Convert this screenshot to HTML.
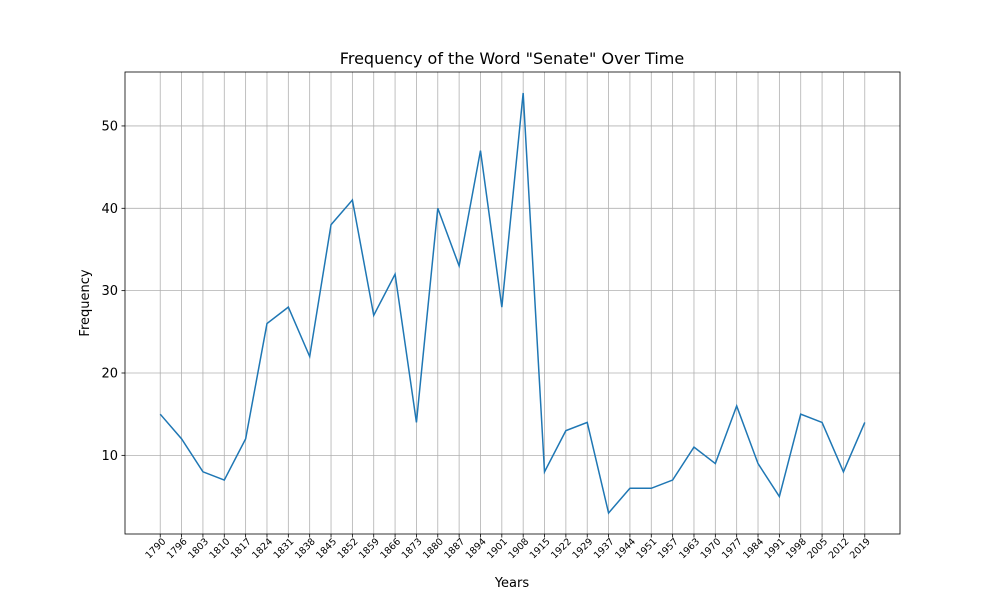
<!DOCTYPE html>
<html><head><meta charset="utf-8"><style>body{margin:0;background:#fff}svg{font-family:"DejaVu Sans","Liberation Sans",sans-serif}</style></head>
<body>
<svg id="chart" width="1000" height="600">
<rect x="0" y="0" width="1000" height="600" fill="#fff"/>
<g id="grid"></g>
<g id="ticks"></g>
<path id="line" fill="none" stroke="#1f77b4" stroke-width="1.5"/>
<rect x="125" y="72" width="775" height="462" fill="none" stroke="#000" stroke-width="0.8"/>
<text x="512" y="64" text-anchor="middle" font-size="16">Frequency of the Word "Senate" Over Time</text>
<text x="512" y="587" text-anchor="middle" font-size="13">Years</text>
<text transform="translate(89,303) rotate(-90)" text-anchor="middle" font-size="13">Frequency</text>
</svg>
<script>
const years=["1790","1796","1803","1810","1817","1824","1831","1838","1845","1852","1859","1866","1873","1880","1887","1894","1901","1908","1915","1922","1929","1937","1944","1951","1957","1963","1970","1977","1984","1991","1998","2005","2012","2019"];
const values=[15,12,8,7,12,26,28,22,38,41,27,32,14,40,33,47,28,54,8,13,14,3,6,6,7,11,9,16,9,5,15,14,8,14];
const yTicks=[10,20,30,40,50];
const NS="http://www.w3.org/2000/svg";
const x0=125,x1=900,yTop=72,yBot=534;
const step=(x1-x0)/(years.length-1+2*1.65);
const xs=i=>x0+step*1.65+i*step;
const mn=Math.min(...values),mx=Math.max(...values),pad=(mx-mn)*0.05;
const ys=v=>yBot-(v-(mn-pad))/((mx+pad)-(mn-pad))*(yBot-yTop);
const grid=document.getElementById('grid'),ticks=document.getElementById('ticks');
function mk(t,a,p){const e=document.createElementNS(NS,t);for(const k in a)e.setAttribute(k,a[k]);p.appendChild(e);return e;}
years.forEach((y,i)=>{
 const x=xs(i);
 const g=mk('line',{x1:x,x2:x,y1:yTop,y2:yBot,stroke:'#b0b0b0','stroke-width':0.8},grid);
 
 
 mk('line',{x1:x,x2:x,y1:yBot,y2:yBot+3.5,stroke:'#000','stroke-width':0.8},ticks);
 const ax=x+6,ay=yBot+8;
 const t=mk('text',{x:ax,y:ay,'font-size':9.5,'text-anchor':'end',transform:`rotate(-45 ${ax} ${ay})`},ticks);
 t.textContent=y;
 
 
});
yTicks.forEach(v=>{
 const y=ys(v);
 const g=mk('line',{x1:x0,x2:x1,y1:y,y2:y,stroke:'#b0b0b0','stroke-width':0.8},grid);
 
 
 mk('line',{x1:x0-3.5,x2:x0,y1:y,y2:y,stroke:'#000','stroke-width':0.8},ticks);
 const t=mk('text',{x:x0-7,y:y+4.5,'font-size':13,'text-anchor':'end'},ticks);
 t.textContent=v;
 
 
});
document.getElementById('line').setAttribute('d',values.map((v,i)=>(i?'L':'M')+xs(i).toFixed(2)+' '+ys(v).toFixed(2)).join(' '));
</script>
</body></html>
